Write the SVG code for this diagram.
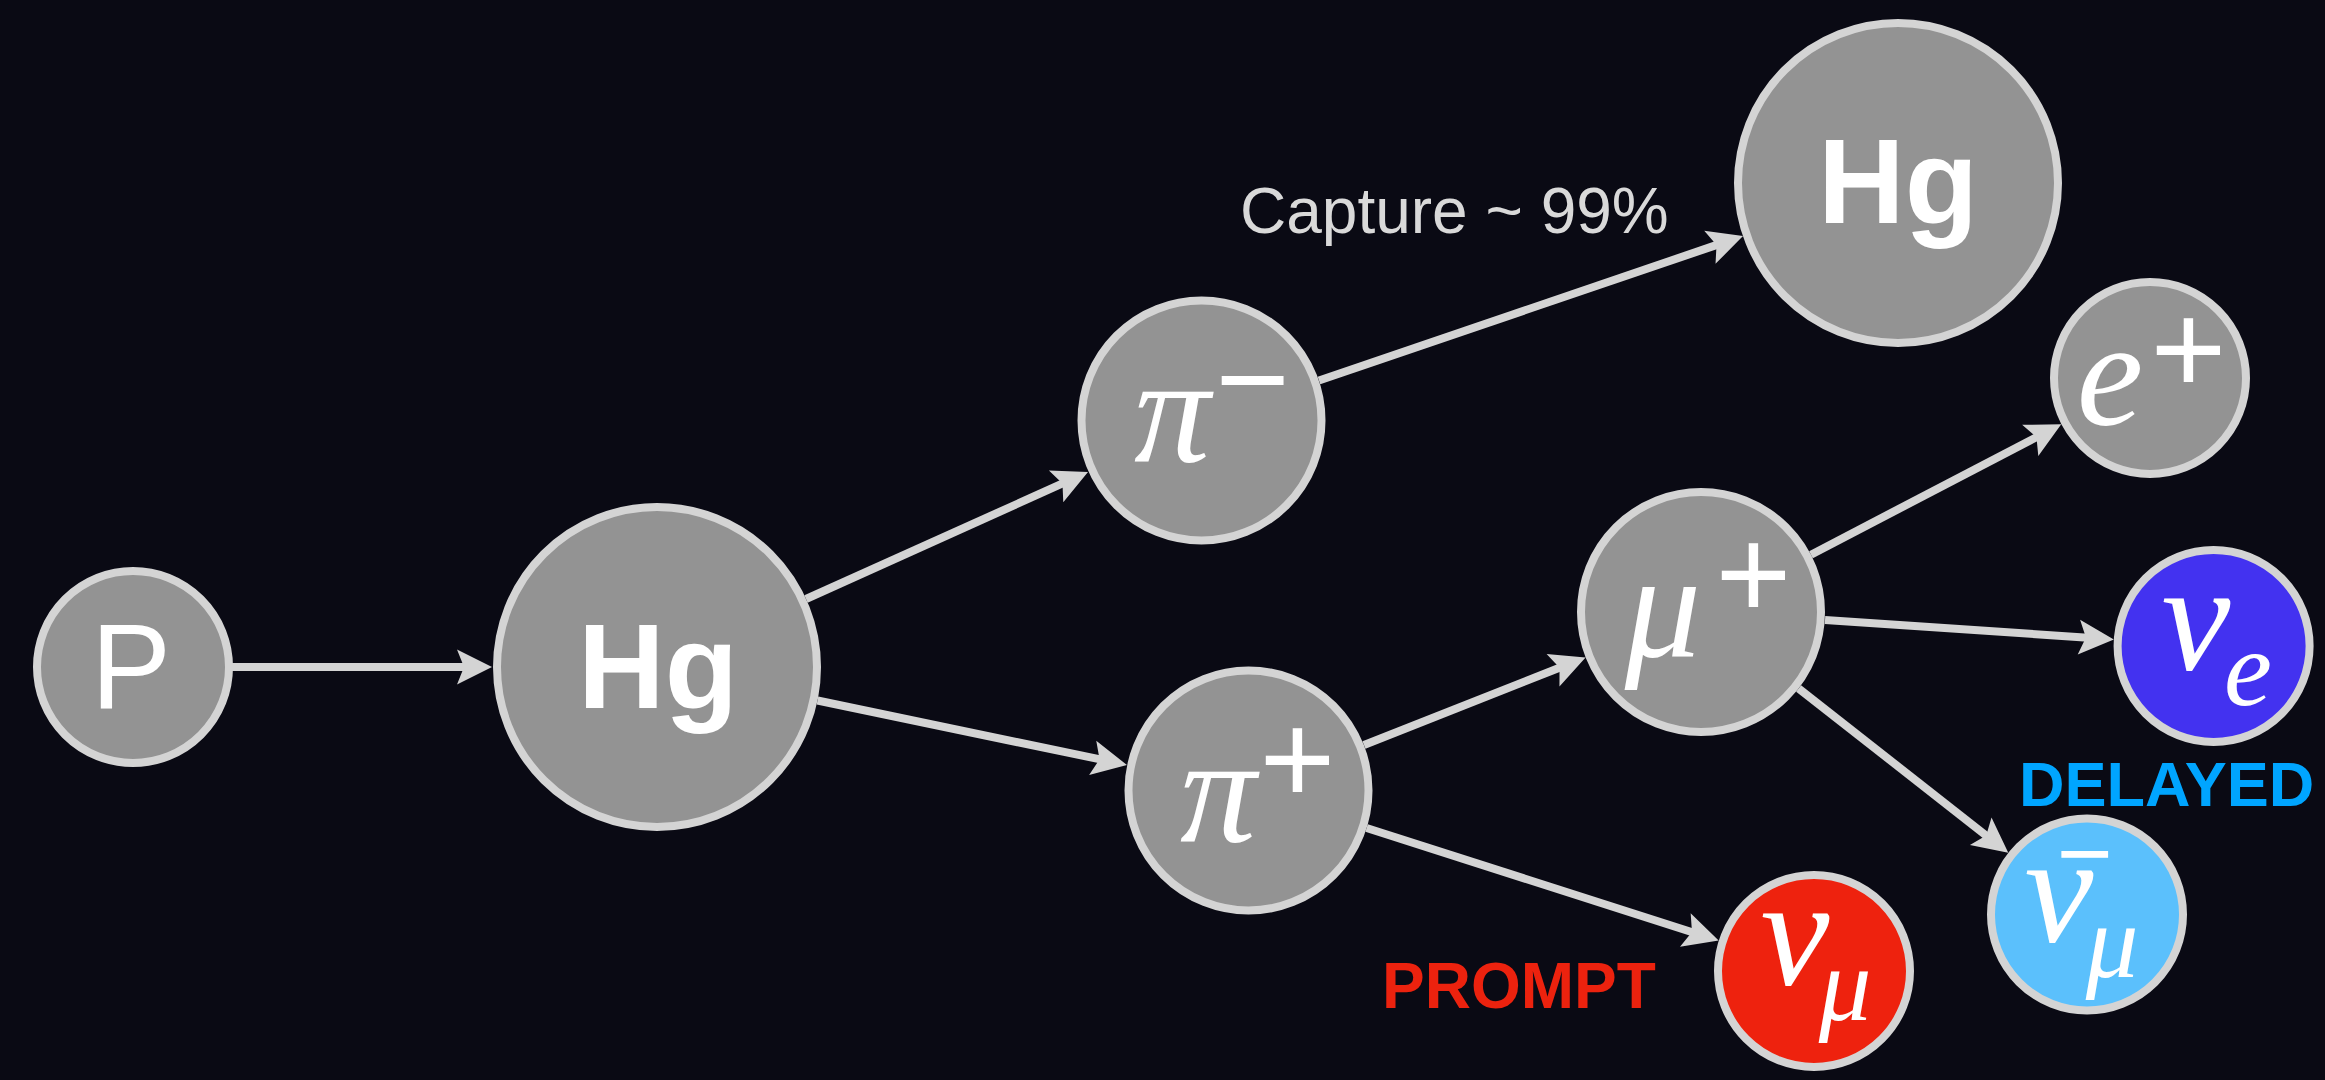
<svg xmlns="http://www.w3.org/2000/svg" width="2325" height="1080" viewBox="0 0 2325 1080">
<defs>
<style>
.node{stroke:#d4d4d4;stroke-width:8}
.gray{fill:#939393}
.sans{font-family:"Liberation Sans",Arial,sans-serif;font-style:normal;fill:#ffffff}
.serif{font-family:"Liberation Serif","Times New Roman",serif;font-style:italic;fill:#ffffff}
.edge{stroke:#d4d4d4;stroke-width:8;fill:none}
</style>
<marker id="arr" markerUnits="userSpaceOnUse" markerWidth="60" markerHeight="60" refX="0" refY="0" orient="auto" overflow="visible" viewBox="-30 -30 60 60">
<path d="M26,0 L-9,-17.5 L-2,0 L-9,17.5 Z" fill="#d4d4d4"/>
</marker>
</defs>
<rect width="2325" height="1080" fill="#0a0a14"/>
<g id="connectors">
<line class="edge" x1="232" y1="667" x2="466" y2="667" marker-end="url(#arr)"/>
<line class="edge" x1="806" y1="599" x2="1064.3" y2="482.7" marker-end="url(#arr)"/>
<line class="edge" x1="817.5" y1="700.5" x2="1101.5" y2="759.7" marker-end="url(#arr)"/>
<line class="edge" x1="1319" y1="380.5" x2="1718.4" y2="244.4" marker-end="url(#arr)"/>
<line class="edge" x1="1364" y1="745" x2="1561.4" y2="667" marker-end="url(#arr)"/>
<line class="edge" x1="1366.6" y1="828" x2="1693.9" y2="932.7" marker-end="url(#arr)"/>
<line class="edge" x1="1811" y1="554.7" x2="2038.2" y2="436.2" marker-end="url(#arr)"/>
<line class="edge" x1="1825" y1="620" x2="2087.9" y2="637.7" marker-end="url(#arr)"/>
<line class="edge" x1="1798.6" y1="688.5" x2="1987.8" y2="836.8" marker-end="url(#arr)"/>
</g>
<g id="label-capture"><text class="sans" x="1240" y="233" font-size="64" style="fill:#d9d9d9">Capture ~ 99%</text></g>
<g id="node-p">
<circle class="node gray" cx="133" cy="667" r="96"/>
<text class="sans" x="131" y="708" font-size="120" text-anchor="middle">P</text>
</g>
<g id="node-hg">
<circle class="node gray" cx="657" cy="667" r="160"/>
<text class="sans" x="658" y="708" font-size="120" font-weight="bold" text-anchor="middle">Hg</text>
</g>
<g id="node-piminus">
<circle class="node gray" cx="1201.5" cy="420.5" r="120"/>
<text text-anchor="middle"><tspan class="serif" x="1172" y="462" font-size="152">π</tspan><tspan class="sans" x="1252.5" y="423" font-size="127">−</tspan></text>
</g>
<g id="node-piplus">
<circle class="node gray" cx="1248.5" cy="790.5" r="120"/>
<text text-anchor="middle"><tspan class="serif" x="1218" y="842" font-size="152">π</tspan><tspan class="sans" x="1297.5" y="803" font-size="130">+</tspan></text>
</g>
<g id="node-hg-capture">
<circle class="node gray" cx="1898" cy="183" r="160"/>
<text class="sans" x="1898" y="223" font-size="120" font-weight="bold" text-anchor="middle">Hg</text>
</g>
<g id="node-muplus">
<circle class="node gray" cx="1701" cy="612" r="120"/>
<text text-anchor="middle"><tspan class="serif" x="1663" y="657" font-size="152">μ</tspan><tspan class="sans" x="1753.5" y="618" font-size="130">+</tspan></text>
</g>
<g id="node-eplus">
<circle class="node gray" cx="2150" cy="378" r="96"/>
<text text-anchor="middle"><tspan class="serif" x="2110" y="425" font-size="150">e</tspan><tspan class="sans" x="2188.5" y="393" font-size="130">+</tspan></text>
</g>
<g id="node-nue">
<circle class="node" cx="2213.6" cy="646" r="96" fill="#4332f0"/>
<text text-anchor="middle"><tspan class="serif" x="2196" y="669" font-size="155">ν</tspan><tspan class="serif" x="2248" y="705" font-size="108">e</tspan></text>
</g>
<g id="node-numubar">
<circle class="node" cx="2087" cy="914.5" r="96" fill="#5bc0fc"/>
<text text-anchor="middle"><tspan class="sans" x="2084.5" y="886" font-size="96">−</tspan><tspan class="serif" x="2059" y="941" font-size="155">ν</tspan><tspan class="serif" x="2112" y="977" font-size="105">μ</tspan></text>
</g>
<g id="node-numu">
<circle class="node" cx="1814" cy="971" r="96" fill="#ee220e"/>
<text text-anchor="middle"><tspan class="serif" x="1795" y="984" font-size="155">ν</tspan><tspan class="serif" x="1845" y="1020" font-size="105">μ</tspan></text>
</g>
<g id="label-delayed"><text x="2019" y="806" font-family="Liberation Sans,Arial,sans-serif" font-weight="bold" font-size="63" fill="#00a5ff">DELAYED</text></g>
<g id="label-prompt"><text x="1382" y="1008" font-family="Liberation Sans,Arial,sans-serif" font-weight="bold" font-size="64" fill="#ec220e">PROMPT</text></g>
</svg>
